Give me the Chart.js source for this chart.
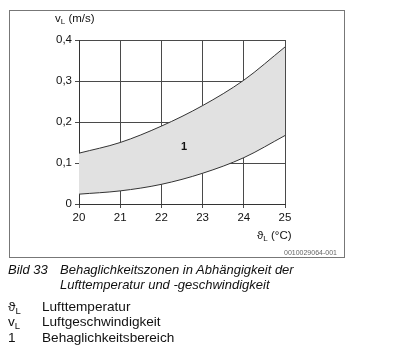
<!DOCTYPE html>
<html><head><meta charset="utf-8">
<script src="https://cdn.jsdelivr.net/npm/chart.js@4/dist/chart.umd.min.js"></script>
<style>
body{margin:0;background:#fff;width:400px;height:348px;position:relative;font-family:"Liberation Sans",Arial,sans-serif;color:#111;overflow:hidden}
#frame{position:absolute;left:9px;top:10px;width:334px;height:246px;border:1px solid #777;border-right-width:1.5px;box-sizing:content-box}
#wrap{position:absolute;left:0;top:0;width:400px;height:260px}
.t{position:absolute;white-space:nowrap}
sub{font-size:70%;vertical-align:-0.3em;line-height:0}
</style></head>
<body>
<div id="frame"></div>
<div id="wrap"><canvas id="c" width="400" height="260"></canvas></div>
<div class="t" style="left:55px;top:12px;font-size:11.5px">v<sub>L</sub> (m/s)</div>
<div class="t" style="left:257px;top:229px;font-size:11.5px">ϑ<sub>L</sub> (°C)</div>
<div class="t" style="left:284px;top:249px;font-size:7px;color:#666">0010029064-001</div>
<div class="t" style="left:8px;top:262px;font-size:13px;font-style:italic">Bild 33</div>
<div class="t" style="left:60px;top:262px;font-size:13px;font-style:italic">Behaglichkeitszonen in Abhängigkeit der</div>
<div class="t" style="left:60px;top:277px;font-size:13px;font-style:italic">Lufttemperatur und -geschwindigkeit</div>
<div class="t" style="left:8px;top:299px;font-size:13.6px">ϑ<sub>L</sub></div>
<div class="t" style="left:42px;top:299px;font-size:13.6px">Lufttemperatur</div>
<div class="t" style="left:8px;top:314px;font-size:13.6px">v<sub>L</sub></div>
<div class="t" style="left:42px;top:314px;font-size:13.6px">Luftgeschwindigkeit</div>
<div class="t" style="left:8px;top:330px;font-size:13.6px">1</div>
<div class="t" style="left:42px;top:330px;font-size:13.6px">Behaglichkeitsbereich</div>
<script>
const temps = [20, 21, 22, 23, 24, 25];
const upperSpeed = [0.124, 0.150, 0.190, 0.240, 0.302, 0.383];
const lowerSpeed = [0.024, 0.032, 0.048, 0.075, 0.113, 0.167];
const xTicks = [20, 21, 22, 23, 24, 25];
const yTicks = [0, 0.1, 0.2, 0.3, 0.4];
const zoneLabel = {x: 22.55, y: 0.139, text: "1"};

const labelPlugin = {
  id: 'zoneLabel',
  afterDatasetsDraw(chart) {
    const ctx = chart.ctx;
    const px = chart.scales.x.getPixelForValue(zoneLabel.x);
    const py = chart.scales.y.getPixelForValue(zoneLabel.y);
    ctx.save();
    ctx.font = 'bold 11px "Liberation Sans", Arial, sans-serif';
    ctx.fillStyle = '#111';
    ctx.textAlign = 'center';
    ctx.textBaseline = 'middle';
    ctx.fillText(zoneLabel.text, px, py);
    ctx.restore();
  }
};

new Chart(document.getElementById('c'), {
  type: 'line',
  data: {
    datasets: [
      {data: temps.map((t, i) => ({x: t, y: lowerSpeed[i]})), borderColor: '#333', borderWidth: 1, pointRadius: 0, fill: false, cubicInterpolationMode: 'monotone'},
      {data: temps.map((t, i) => ({x: t, y: upperSpeed[i]})), borderColor: '#333', borderWidth: 1, pointRadius: 0, fill: {target: 0}, backgroundColor: '#e1e1e1', cubicInterpolationMode: 'monotone'}
    ]
  },
  options: {
    responsive: false,
    animation: false,
    devicePixelRatio: 1,
    layout: {padding: {left: 0, right: 115, top: 40, bottom: 0}},
    plugins: {legend: {display: false}, tooltip: {enabled: false}},
    scales: {
      x: {
        type: 'linear', min: 20, max: 25,
        afterBuildTicks: s => { s.ticks = xTicks.map(v => ({value: v})); },
        afterFit: s => { s.height = 56; },
        grid: {color: '#4a4a4a', lineWidth: 1, tickLength: 4, drawTicks: true},
        border: {color: '#333', width: 1},
        ticks: {color: '#111', padding: 3, font: {size: 11.5, family: '"Liberation Sans", Arial, sans-serif'}, callback: v => String(v), maxRotation: 0}
      },
      y: {
        type: 'linear', min: 0, max: 0.4,
        afterBuildTicks: s => { s.ticks = yTicks.map(v => ({value: v})); },
        afterFit: s => { s.width = 79; },
        grid: {color: '#4a4a4a', lineWidth: 1, tickLength: 4},
        border: {color: '#333', width: 1},
        ticks: {color: '#111', padding: 3, font: {size: 11.5, family: '"Liberation Sans", Arial, sans-serif'}, callback: v => v === 0 ? '0' : String(v).replace('.', ',')}
      }
    }
  },
  plugins: [labelPlugin]
});
</script>
</body></html>
